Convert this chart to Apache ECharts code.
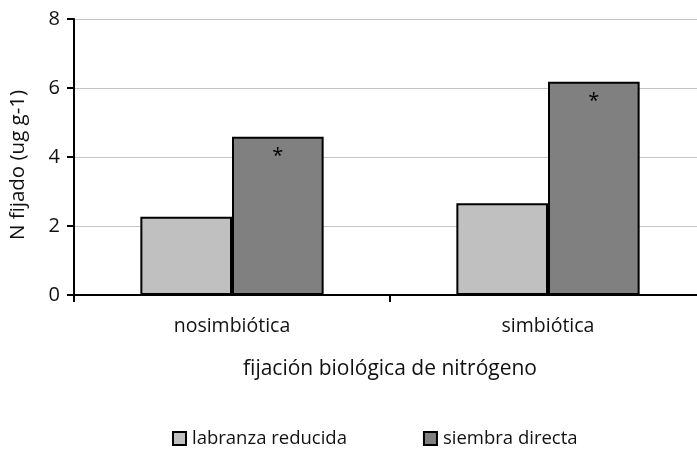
<!DOCTYPE html>
<html>
<head>
<meta charset="utf-8">
<script src="https://cdn.jsdelivr.net/npm/echarts@6/dist/echarts.min.js"></script>
<style>html,body{margin:0;padding:0;background:#fff}#c{width:697px;height:450px}</style>
</head>
<body>
<div id="c"></div>
<script>
var categories = ['nosimbiótica', 'simbiótica'];
var labranzaReducida = [2.27, 2.66];
var siembraDirecta = [4.59, 6.18];
var significance = ['*', '*'];
var yTicks = [0, 2, 4, 6, 8];

var FONT = 'Open Sans';
var chart = echarts.init(document.getElementById('c'), null, {renderer: 'canvas'});
chart.setOption({
  animation: false,
  backgroundColor: '#fff',
  textStyle: {fontFamily: FONT, fontSize: 16},
  grid: {left: 74, top: 19, height: 276, width: 632, containLabel: false, outerBoundsMode: 'none'},
  legend: {
    top: 429, left: 172, padding: 0,
    itemWidth: 13, itemHeight: 13, itemGap: 76,
    icon: 'rect',
    textStyle: {fontFamily: FONT, fontSize: 18.5, color: '#111', padding: [0, 0, 0, 1]},
    data: ['labranza reducida', 'siembra directa']
  },
  xAxis: {
    type: 'category',
    data: categories,
    name: 'fijación biológica de nitrógeno',
    nameLocation: 'middle',
    nameGap: 64,
    nameTextStyle: {fontFamily: FONT, fontSize: 21, color: '#111'},
    axisLine: {lineStyle: {color: '#000', width: 2}},
    axisTick: {show: true, length: 7, lineStyle: {color: '#000', width: 2}},
    axisLabel: {fontFamily: FONT, fontSize: 19.5, color: '#111', margin: 21}
  },
  yAxis: {
    type: 'value',
    min: yTicks[0], max: yTicks[yTicks.length - 1], interval: 2,
    name: 'N fijado (ug g-1)',
    nameLocation: 'middle',
    nameGap: 45,
    nameTextStyle: {fontFamily: FONT, fontSize: 20.5, color: '#111', padding: [0, 16, 0, 0]},
    axisLine: {show: true, lineStyle: {color: '#000', width: 2}},
    axisTick: {show: true, length: 7, lineStyle: {color: '#000', width: 2}},
    axisLabel: {fontFamily: FONT, fontSize: 20, color: '#111', margin: 14},
    splitLine: {show: true, lineStyle: {color: '#c4c4c4', width: 1}}
  },
  series: [
    {
      name: 'labranza reducida', type: 'bar', data: labranzaReducida,
      barGap: '0%', barCategoryGap: '42%',
      itemStyle: {color: '#c0c0c0', borderColor: '#000', borderWidth: 2}
    },
    {
      name: 'siembra directa', type: 'bar', data: siembraDirecta,
      barGap: '0%', barCategoryGap: '42%',
      itemStyle: {color: '#808080', borderColor: '#000', borderWidth: 2},
      label: {
        show: true, position: 'insideTop', distance: 10,
        formatter: function (p) { return significance[p.dataIndex]; },
        fontFamily: FONT, fontSize: 20, color: '#000'
      }
    }
  ]
});
</script>
</body>
</html>
